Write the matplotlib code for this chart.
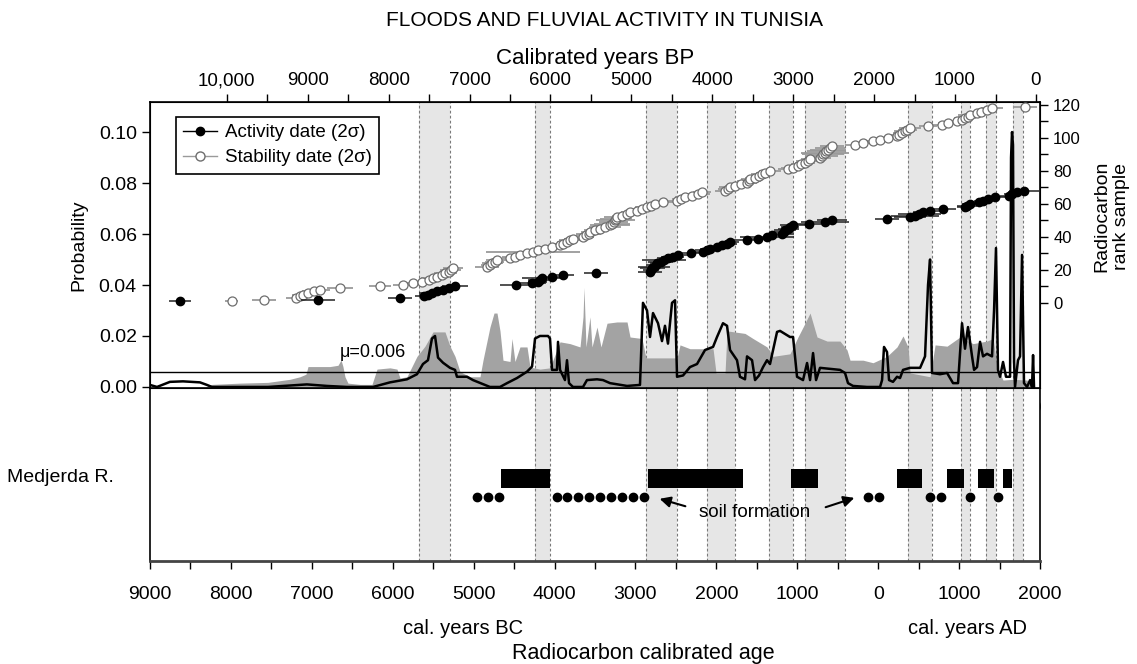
import numpy as np
import matplotlib.pyplot as plt
from matplotlib.lines import Line2D

plt.rcParams['font.family'] = ['Liberation Sans', 'DejaVu Sans']

# shaded phases (cal. years AD, negative = BC)
band_start = [-5675, -4240, -2870, -2116, -1350, -905, 368, 1023, 1333, 1666]
band_end = [-5290, -4055, -2487, -1770, -1053, -410, 665, 1135, 1456, 1790]

# summed probability of stability dates (grey area), x in cal. BP
stab_curve_bp = [10950, 10270, 10184, 9838, 9492, 9220, 9096, 9022, 8997, 8725,
                 8626, 8589, 8565, 8540, 8503, 8354, 8206, 8144, 7984, 7897,
                 7860, 7774, 7650, 7551, 7452, 7304, 7242, 7180, 7118, 6995,
                 6871, 6834, 6748, 6698, 6661, 6624, 6587, 6500, 6476, 6439,
                 6377, 6290, 6253, 6130, 6006, 5882, 5759, 5635, 5598, 5586,
                 5561, 5512, 5487, 5425, 5376, 5301, 5178, 5054, 5017, 4869,
                 4820, 4436, 4399, 4276, 3991, 3954, 3843, 3818, 3596, 3497,
                 3324, 3250, 3040, 2941, 2854, 2792, 2706, 2582, 2422, 2335,
                 2298, 2137, 2014, 1841, 1717, 1643, 1581, 1556, 1309, 1247,
                 1099, 938, 778, 605, 530, 481, 407, 283, 110, 36, -50]
stab_curve_p = [0, 0, 0.001, 0.0015, 0.0018, 0.003, 0.004, 0.005, 0.008, 0.008,
                0.0085, 0.0106, 0.008, 0.004, 0.0015, 0.001, 0.001, 0.007, 0.0075, 0.007,
                0.0035, 0.004, 0.012, 0.016, 0.0216, 0.0216, 0.016, 0.012, 0.006, 0.004,
                0.004, 0.0105, 0.0235, 0.029, 0.029, 0.022, 0.0105, 0.010, 0.019, 0.010,
                0.0157, 0.0157, 0.0078, 0.007, 0.0075, 0.0177, 0.017, 0.0157, 0.0275, 0.039,
                0.0157, 0.0275, 0.0157, 0.0235, 0.0157, 0.025, 0.0255, 0.0255, 0.0196, 0.019,
                0.0114, 0.0114, 0.0165, 0.015, 0.015, 0.0055, 0.0055, 0.022, 0.021, 0.019,
                0.0157, 0.012, 0.013, 0.0196, 0.025, 0.029, 0.0196, 0.018, 0.018, 0.0145,
                0.0105, 0.0105, 0.0095, 0.012, 0.0157, 0.020, 0.0157, 0.0055, 0.004, 0.0165,
                0.016, 0.0196, 0.017, 0.018, 0.019, 0.0078, 0.0027, 0.003, 0.0027, 0, 0]

# summed probability of activity dates (black line), x in cal. BP
act_curve_bp = [10950, 10863, 10703, 10542, 10332, 10246, 10184, 9492, 9010, 8762,
                8515, 8194, 7984, 7774, 7650, 7576, 7514, 7465, 7427, 7390,
                7328, 7242, 7180, 7156, 7032, 6958, 6748, 6624, 6537, 6414,
                6290, 6228, 6191, 6130, 6031, 6006, 5981, 5920, 5907, 5882,
                5821, 5796, 5771, 5722, 5598, 5549, 5425, 5351, 5264, 5054,
                4894, 4857, 4807, 4770, 4733, 4671, 4622, 4585, 4548, 4498,
                4461, 4436, 4362, 4276, 4189, 4090, 3991, 3942, 3868, 3818,
                3781, 3695, 3658, 3596, 3571, 3509, 3472, 3423, 3373, 3324,
                3287, 3200, 3163, 3040, 3002, 2953, 2879, 2829, 2792, 2755,
                2718, 2669, 2422, 2360, 2323, 2261, 2088, 1927, 1902, 1878,
                1841, 1816, 1767, 1717, 1680, 1643, 1556, 1432, 1371, 1334,
                1309, 1285, 1186, 1099, 1025, 963, 914, 877, 840, 790,
                765, 728, 691, 654, 605, 543, 518, 494, 469, 444,
                407, 370, 320, 308, 296, 284, 271, 259, 222, 197,
                172, 148, 110, 73, 49, 36, 24]
act_curve_p = [0.0008, 0, 0.002, 0.0022, 0.0018, 0.0008, 0, 0, 0.001, 0.0004,
               0, 0, 0.0018, 0.003, 0.005, 0.009, 0.0105, 0.019, 0.020, 0.0115,
               0.0095, 0.0075, 0.0067, 0.004, 0.004, 0.0027, 0, 0, 0.0015, 0.0035,
               0.006, 0.008, 0.019, 0.020, 0.020, 0.019, 0.0067, 0.0067, 0.0177, 0.0067,
               0.0027, 0.0105, 0.0015, 0, 0, 0.0027, 0.003, 0.0027, 0.0015, 0.0004,
               0.0008, 0.033, 0.030, 0.0196, 0.029, 0.025, 0.018, 0.024, 0.017, 0.033,
               0.034, 0.004, 0.0045, 0.0078, 0.009, 0.0145, 0.0157, 0.0196, 0.025, 0.024,
               0.0145, 0.0105, 0.004, 0.003, 0.012, 0.0105, 0.0027, 0.0045, 0.0078, 0.0105,
               0.009, 0.0216, 0.022, 0.0196, 0.0196, 0.004, 0.0027, 0.0094, 0.0027, 0.0133,
               0.0027, 0.0075, 0.0067, 0.0055, 0.0015, 0.0004, 0, 0, 0.0027, 0.0157,
               0.0137, 0.0027, 0.002, 0.004, 0.0035, 0.0067, 0.0075, 0.0075, 0.012, 0.04,
               0.050, 0.0055, 0.005, 0.0055, 0.0015, 0.0015, 0.025, 0.015, 0.0235, 0.012,
               0.0067, 0.0078, 0.0177, 0.012, 0.013, 0.012, 0.03, 0.0545, 0.0067, 0.004,
               0.0098, 0.004, 0.004, 0.09, 0.100, 0.095, 0.01, 0, 0.0105, 0.012,
               0.0518, 0.0015, 0, 0.0027, 0, 0.0125, 0]

mu = 0.006

# individual dates, cal. BP, ranked 1..n
act_bp = [10580, 8870, 7860, 7560, 7520, 7470, 7400, 7330, 7260, 7180,
          6430, 6230, 6160, 6130, 6100, 5980, 5845, 5440, 4770, 4760,
          4740, 4720, 4700, 4680, 4640, 4600, 4550, 4490, 4420, 4260,
          4115, 4070, 4030, 3940, 3880, 3820, 3780, 3570, 3435, 3324,
          3262, 3138, 3120, 3100, 3060, 3040, 3000, 2805, 2607, 2520,
          1840, 1557, 1495, 1440, 1396, 1309, 1149, 880, 852, 815,
          704, 650, 593, 506, 330, 296, 234, 148]
act_err = [140, 210, 150, 120, 100, 150, 90, 130, 110, 160,
           200, 180, 120, 150, 250, 100, 130, 150, 150, 100,
           150, 200, 120, 90, 160, 270, 130, 140, 150, 120,
           100, 140, 120, 150, 100, 130, 110, 160, 120, 330,
           100, 150, 120, 140, 130, 110, 160, 150, 300, 190,
           150, 200, 300, 265, 120, 140, 160, 100, 120, 100,
           110, 120, 100, 130, 120, 100, 110, 180]

stab_bp = [9937, 9541, 9150, 9100, 9060, 9000, 8920, 8849, 8602, 8107,
           7823, 7699, 7588, 7500, 7452, 7400, 7341, 7300, 7260, 7230,
           7205, 6785, 6748, 6720, 6690, 6661, 6500, 6440, 6377, 6290,
           6220, 6154, 6070, 5981, 5882, 5840, 5796, 5760, 5722, 5598,
           5560, 5530, 5512, 5450, 5388, 5330, 5264, 5240, 5220, 5200,
           5190, 5178, 5116, 5060, 5017, 4931, 4870, 4807, 4760, 4708,
           4609, 4436, 4390, 4337, 4251, 4180, 4127, 3843, 3810, 3781,
           3719, 3640, 3571, 3550, 3534, 3472, 3420, 3380, 3349, 3287,
           3064, 3000, 2941, 2900, 2854, 2820, 2792, 2669, 2650, 2630,
           2607, 2590, 2570, 2545, 2520, 2236, 2137, 2014, 1927, 1828,
           1717, 1690, 1655, 1620, 1590, 1557, 1334, 1161, 1087, 975,
           920, 877, 840, 815, 728, 680, 605, 543, 135]
stab_err = [80, 150, 120, 100, 130, 110, 150, 120, 160, 140,
            120, 100, 130, 110, 150, 100, 120, 140, 110, 130,
            120, 150, 110, 130, 120, 140, 100, 160, 130, 120,
            580, 140, 120, 150, 110, 130, 120, 140, 110, 130,
            120, 150, 110, 130, 120, 200, 250, 220, 180, 240,
            200, 160, 120, 140, 110, 130, 120, 150, 110, 130,
            120, 140, 110, 130, 120, 150, 110, 130, 120, 140,
            110, 130, 120, 150, 110, 130, 120, 140, 110, 130,
            120, 150, 110, 130, 120, 140, 110, 130, 200, 260,
            300, 240, 220, 180, 150, 130, 120, 140, 110, 130,
            120, 150, 110, 130, 120, 140, 110, 130, 120, 140,
            110, 130, 120, 150, 110, 130, 120, 140, 150]

# Medjerda river record (cal. years AD)
bar_start = [-4662, -2845, -1078, 232, 851, 1234, 1543]
bar_end = [-4056, -1671, -744, 542, 1061, 1432, 1654]
soil_dots = [-4959, -4823, -4687, -3970, -3846, -3710, -3574, -3438, -3302,
             -3166, -3030, -2894, -126, 10, 640, 776, 1135, 1481]

bp_ticks = [10000, 9000, 8000, 7000, 6000, 5000, 4000, 3000, 2000, 1000, 0]
bp_labels = ["10,000", "9000", "8000", "7000", "6000", "5000", "4000",
             "3000", "2000", "1000", "0"]
ad_ticks = [-9000, -8000, -7000, -6000, -5000, -4000, -3000, -2000, -1000,
            0, 1000, 2000]
ad_labels = ["9000", "8000", "7000", "6000", "5000", "4000", "3000", "2000",
             "1000", "0", "1000", "2000"]


def to_ad(bp):
    return 1950 - np.asarray(bp, dtype=float)


fig = plt.figure(figsize=(11.37, 6.64), dpi=100)
ax1 = fig.add_axes([0.1319, 0.4157, 0.7828, 0.4307])
ax2 = fig.add_axes([0.1319, 0.1551, 0.7828, 0.2606])

band_col = '#e6e6e6'
edge_col = '#7a7a7a'
for ax in (ax1, ax2):
    for s, e in zip(band_start, band_end):
        ax.axvspan(s, e, color=band_col, lw=0, zorder=0)
        for xx in (s, e):
            ax.axvline(xx, color=edge_col, lw=0.8, ls=(0, (2.5, 2)), zorder=0.5)
    ax.set_xlim(-9000, 2000)

# --- top panel: probabilities
ax1.fill_between(to_ad(stab_curve_bp), stab_curve_p, 0, color='#a3a3a3', lw=0, zorder=1)
ax1.plot(to_ad(act_curve_bp), act_curve_p, color='black', lw=1.8, zorder=2)
ax1.axhline(mu, color='black', lw=1.0, zorder=3)
ax1.text(-6660, 0.0137, "μ=0.006", fontsize=13, va='center', ha='left')
ax1.set_ylim(-0.0004, 0.1118)
ax1.set_yticks([0, 0.02, 0.04, 0.06, 0.08, 0.10])
ax1.set_yticklabels(["0.00", "0.02", "0.04", "0.06", "0.08", "0.10"])
ax1.set_ylabel("Probability", fontsize=14, labelpad=8)

ax1.set_xticks(to_ad(bp_ticks))
ax1.set_xticklabels(bp_labels)
ax1.set_xticks(to_ad([9500, 8500, 7500, 6500, 5500, 4500, 3500, 2500, 1500, 500]), minor=True)
ax1.tick_params(axis='x', which='both', top=True, bottom=True, labeltop=True,
                labelbottom=True, direction='out', length=6, width=1,
                labelsize=13.5, pad=3)
ax1.tick_params(axis='y', direction='out', length=6, width=1, labelsize=14)
ax1.set_xlabel("Calibrated years BP", fontsize=16, labelpad=6)
ax1.xaxis.set_label_position('top')
for sp in ax1.spines.values():
    sp.set_linewidth(1.2)

# --- rank axis
axr = ax1.twinx()
axr.set_ylim(-51.5, 121.8)
axr.set_yticks([0, 20, 40, 60, 80, 100, 120])
axr.set_yticks([10, 30, 50, 70, 90, 110], minor=True)
axr.tick_params(axis='y', which='both', direction='out', length=6, width=1, labelsize=12)
axr.set_ylabel("Radiocarbon\nrank sample", fontsize=14, labelpad=6)
axr.yaxis.set_label_coords(1.06, 0.6)

stab_rank = np.arange(1, len(stab_bp) + 1)
act_rank = np.arange(1, len(act_bp) + 1)
axr.errorbar(to_ad(stab_bp), stab_rank, xerr=stab_err, fmt='o', ms=6.5,
             mfc='white', mec='#6e6e6e', mew=0.9, ecolor='#9a9a9a',
             elinewidth=1.3, capsize=0, zorder=4)
axr.errorbar(to_ad(act_bp), act_rank, xerr=act_err, fmt='o', ms=6,
             mfc='black', mec='black', ecolor='#222222', elinewidth=1.1,
             capsize=0, zorder=5)

handles = [Line2D([], [], color='black', lw=1, marker='o', ms=6, mfc='black'),
           Line2D([], [], color='#9a9a9a', lw=1, marker='o', ms=6.5,
                  mfc='white', mec='#6e6e6e')]
leg = axr.legend(handles, ["Activity date (2σ)", "Stability date (2σ)"],
                 loc='upper left', bbox_to_anchor=(0.029, 0.948), borderaxespad=0,
                 fontsize=13.5, frameon=True, fancybox=False, edgecolor='black',
                 framealpha=1, handlelength=1.8, handletextpad=0.4,
                 labelspacing=0.4, borderpad=0.4)
leg.get_frame().set_linewidth(1.2)

# --- bottom panel: Medjerda record
ax2.set_ylim(0, 1)
ax2.set_yticks([])
ax2.broken_barh([(s, e - s) for s, e in zip(bar_start, bar_end)], (0.422, 0.11),
                facecolors='black', zorder=3)
ax2.plot(soil_dots, [0.37] * len(soil_dots), 'o', color='black', ms=6, zorder=3)
ax2.text(-1522, 0.283, "soil formation", fontsize=13.5, ha='center', va='center')
ax2.annotate("", xy=(-2734, 0.364), xytext=(-2350, 0.312),
             arrowprops=dict(arrowstyle='-|>', color='black', lw=1.5,
                             mutation_scale=16))
ax2.annotate("", xy=(-262, 0.370), xytext=(-682, 0.306),
             arrowprops=dict(arrowstyle='-|>', color='black', lw=1.5,
                             mutation_scale=16))
ax2.set_xticks(ad_ticks)
ax2.set_xticklabels(ad_labels)
ax2.set_xticks(np.arange(-8500, 2000, 1000), minor=True)
ax2.tick_params(axis='x', which='both', direction='out', length=6, width=1,
                labelsize=14, pad=12)
ax2.spines['top'].set_visible(False)
for sp in ('left', 'right'):
    ax2.spines[sp].set_linewidth(1.2)
ax2.spines['bottom'].set_linewidth(2)
ax2.spines['bottom'].set_color('#444444')

fig.text(60 / 1137, 1 - 478 / 664, "Medjerda R.", fontsize=14, ha='center', va='center')
fig.text(463 / 1137, 1 - 628 / 664, "cal. years BC", fontsize=14.5, ha='center', va='center')
fig.text(967 / 1137, 1 - 628 / 664, "cal. years AD", fontsize=14.5, ha='center', va='center')
fig.text(643 / 1137, 1 - 653 / 664, "Radiocarbon calibrated age", fontsize=15.5,
         ha='center', va='center')
fig.text(605 / 1137, 1 - 20 / 664, "FLOODS AND FLUVIAL ACTIVITY IN TUNISIA",
         fontsize=15, ha='center', va='center')

fig.savefig("out.png", dpi=100)
